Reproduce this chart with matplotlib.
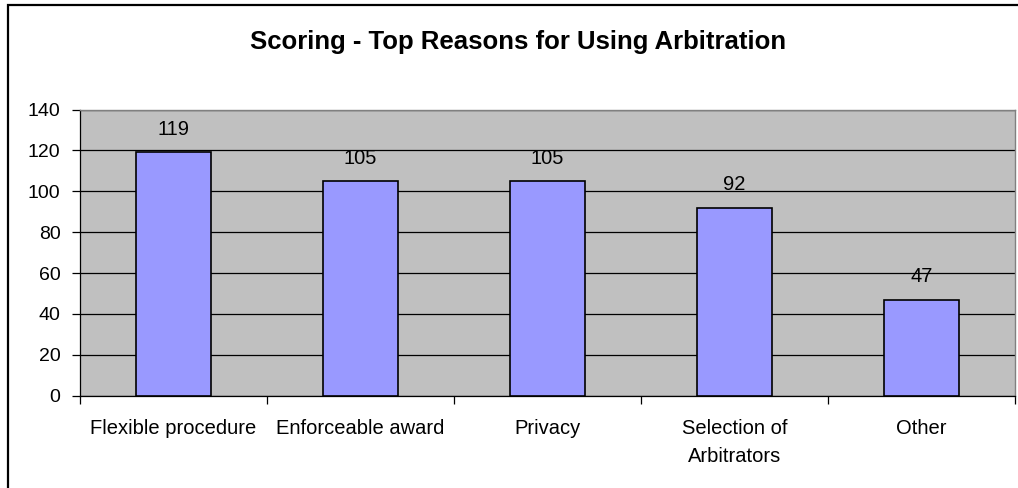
import matplotlib
matplotlib.use("Agg")
import matplotlib.pyplot as plt
from matplotlib.patches import Rectangle

plt.rcParams['font.family'] = ['Liberation Sans', 'DejaVu Sans']

categories = ["Flexible procedure", "Enforceable award", "Privacy",
              "Selection of\nArbitrators", "Other"]
scores = [119, 105, 105, 92, 47]
y_ticks = [0, 20, 40, 60, 80, 100, 120, 140]

W, H = 1018, 488
fig = plt.figure(figsize=(W / 100, H / 100), dpi=100)
fig.patch.set_facecolor('white')

# outer chart border
fig.patches.append(Rectangle((7.5 / W, -0.1), 1.2, (H - 5.5) / H + 0.1,
                             transform=fig.transFigure, fill=False,
                             edgecolor='black', linewidth=1.6, zorder=0))

ax = fig.add_axes([80 / W, (H - 395.7) / H, (1015 - 80) / W, (395.7 - 109.5) / H])
ax.set_facecolor('#C0C0C0')

x = range(len(categories))
ax.bar(x, scores, width=0.4, color='#9999FF', edgecolor='black', linewidth=1.2, zorder=3)
for xi, v in zip(x, scores):
    ax.annotate(str(v), (xi, v), xytext=(0, 16.5), textcoords='offset points',
                ha='center', va='center', fontsize=14.5, zorder=4)

ax.set_xlim(-0.5, len(categories) - 0.5)
ax.set_ylim(0, 140)
ax.set_yticks(y_ticks)
ax.yaxis.grid(True, color='black', linewidth=0.9, zorder=1)
ax.set_axisbelow(True)
ax.tick_params(axis='y', length=6, width=0.9, labelsize=14, pad=8, direction='out')

# category labels centred under bars, ticks at category boundaries
ax.set_xticks([i - 0.5 for i in range(len(categories) + 1)])
ax.set_xticklabels([])
ax.set_xticks(list(x), minor=True)
ax.set_xticklabels(categories, minor=True, fontsize=14.5, linespacing=1.55)
ax.tick_params(axis='x', which='major', length=6, width=0.9, direction='out')
ax.tick_params(axis='x', which='minor', length=0, pad=17)

for side in ('top', 'right'):
    ax.spines[side].set_color('#808080')
    ax.spines[side].set_linewidth(1.0)
for side in ('left', 'bottom'):
    ax.spines[side].set_color('black')
    ax.spines[side].set_linewidth(0.9)

fig.text(518 / W, (H - 42) / H, "Scoring - Top Reasons for Using Arbitration",
         ha='center', va='center', fontsize=18.5, fontweight='bold')

fig.savefig("out.png", dpi=100)
